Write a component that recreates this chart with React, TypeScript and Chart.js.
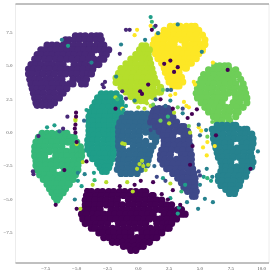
import React, { useEffect, useRef } from "react";
import { Chart, registerables } from "chart.js";

Chart.register(...registerables);

const xTickValues = [-7.5, -5, -2.5, 0, 2.5, 5, 7.5, 10];
const yTickValues = [-7.5, -5, -2.5, 0, 2.5, 5, 7.5];
const colors = ["#440154", "#482878", "#3e4989", "#31688e", "#26828e", "#1f9e89", "#35b779", "#6ece58", "#b5de2b", "#fde725"];

// each row: y value, then the x values read along that row
const cluster0 = [
  [-4.4, -4.1, -3.8, -3.3, -2.9, -2.4, -2.0, -1.5, -1.1, -0.6, -0.2, 0.3, 0.6],
  [-4.7, -4.2, -3.9, -3.4, -3.0, -2.5, -2.1, -1.6, -1.2, -0.7, -0.3, 0.2, 0.6, 1.1, 1.2],
  [-5.05, -4.3, -3.9, -3.5, -3.0, -2.6, -2.1, -1.7, -0.8, -0.3, 0.1, 0.6, 1.0, 1.5, 1.9],
  [-5.4, -4.3, -4.0, -3.5, -3.1, -2.6, -2.2, -1.7, -1.3, -0.8, -0.4, 0.1, 0.5, 1.0, 1.4, 1.9, 2.3, 2.7],
  [-5.75, -4.4, -4.0, -3.6, -3.1, -2.2, -1.8, -1.3, -0.9, -0.4, 0.0, 0.5, 0.9, 1.4, 1.8, 2.3, 2.7, 3.2, 3.5],
  [-6.1, -4.6, -4.2, -3.7, -3.3, -2.8, -2.4, -1.9, -1.5, -1.0, -0.6, -0.1, 0.3, 0.8, 1.2, 2.1, 2.6, 3.0, 3.5, 3.8],
  [-6.45, -4.5, -4.1, -3.6, -3.1, -2.7, -2.2, -1.8, -1.3, -0.9, -0.4, 0.0, 0.5, 0.9, 1.4, 1.8, 2.3, 2.8, 3.1],
  [-6.8, -4.3, -3.9, -3.4, -3.0, -2.5, -1.6, -1.2, -0.7, -0.3, 0.2, 0.6, 1.5, 2.0, 2.4, 2.7],
  [-7.15, -3.8, -3.5, -3.0, -2.6, -2.1, -1.7, -1.2, -0.8, -0.3, 0.1, 0.6, 1.0, 1.5, 1.9, 2.3, 2.5],
  [-7.5, -3.2, -2.9, -2.4, -2.0, -1.5, -1.1, -0.6, 0.3, 0.7, 1.2, 1.6, 1.9],
  [-7.85, -2.8, -2.4, -1.9, -1.5, -1.0, -0.6, -0.1, 0.3, 0.8, 1.2, 1.5],
  [-8.2, -2.1, -1.7, -1.3, -0.8, -0.4, 0.1, 0.5, 0.9],
  [-8.5, -1.2, -0.8, -0.3, 0.1, 0.4],
  [-8.8, -0.6, -0.2],
];
const cluster1 = [
  [7.25, -5.1, -4.7, -4.3, -3.8, -3.4, -3.1],
  [6.95, -5.9, -5.6, -5.2, -4.8, -4.3, -3.9, -3.4, -3.0],
  [6.55, -7.4, -7.0, -6.6, -6.1, -5.7, -5.2, -4.8, -4.3, -3.9, -3.4, -3.0, -2.8],
  [6.2, -7.9, -7.6, -7.1, -6.7, -6.2, -5.8, -5.3, -4.9, -4.4, -4.0, -3.5, -3.1, -2.7, -2.4],
  [5.85, -8.2, -7.9, -7.4, -7.0, -6.5, -6.1, -5.6, -5.2, -4.7, -4.3, -3.8, -2.9, -2.6],
  [5.5, -8.4, -8.1, -7.6, -7.2, -6.7, -6.3, -5.8, -5.4, -4.9, -4.5, -4.0, -3.6, -3.1, -2.8],
  [5.1, -8.7, -8.3, -7.9, -7.4, -7.0, -6.5, -6.1, -5.2, -4.7, -4.3, -3.8, -3.4, -3.2],
  [4.75, -8.9, -8.5, -8.1, -7.6, -7.2, -6.7, -6.3, -5.8, -5.4, -4.9, -4.5, -4.0, -3.7],
  [4.4, -8.9, -8.6, -8.1, -7.7, -7.2, -6.8, -6.3, -5.9, -5.4, -5.0, -4.5, -4.1, -3.8],
  [4.0, -8.8, -8.4, -8.0, -7.5, -7.1, -6.6, -6.2, -5.3, -4.8, -4.4, -4.2],
  [3.65, -8.7, -8.3, -7.9, -7.4, -7.0, -6.5, -6.1, -5.6, -5.3, -4.6, -4.3],
  [3.3, -8.6, -8.2, -7.8, -7.3, -6.9, -6.4, -6.0, -5.8],
  [2.95, -8.5, -8.1, -7.7, -7.2, -6.8, -6.3, -6.1],
  [2.6, -8.4, -8.1, -7.6, -7.2, -6.7, -6.4],
  [2.25, -8.3, -8.0, -7.5, -7.1, -6.8],
  [2.05, -8.2, -7.8, -7.4, -7.1],
];
const cluster2 = [
  [1.8, 1.3, 1.7, 2.1, 2.4],
  [1.5, 1.2, 1.5, 2.0, 2.4, 2.6],
  [1.15, 1.1, 1.4, 1.9, 2.3, 2.8],
  [0.8, 1.0, 1.3, 1.8, 2.2, 2.7, 3.1],
  [0.45, 1.4, 1.7, 2.2, 2.6, 3.1, 3.5, 3.7],
  [0.1, 1.7, 2.1, 2.5, 3.0, 3.4, 3.9, 4.0],
  [-0.25, 2.0, 2.4, 2.8, 3.7, 4.1],
  [-0.6, 2.1, 2.4, 2.9, 3.3, 3.8, 4.1],
  [-0.95, 2.1, 2.5, 2.9, 3.4, 3.8, 4.2],
  [-1.3, 1.9, 2.3, 2.7, 3.2, 3.6, 4.1, 4.2],
  [-1.65, 1.8, 2.1, 2.6, 3.5, 3.9, 4.3],
  [-2.0, 1.8, 2.2, 2.6, 3.1, 3.5, 4.0, 4.3],
  [-2.35, 2.0, 2.4, 2.8, 3.3, 3.7, 4.2, 4.3],
  [-2.7, 2.3, 2.6, 3.1, 3.5, 4.0, 4.4],
  [-3.05, 2.8, 3.2, 3.6, 4.1, 4.5],
  [-3.4, 3.2, 3.6, 4.0, 4.5, 4.6],
  [-3.75, 3.5, 3.9, 4.3, 4.6],
  [-4.1, 3.7, 4.1, 4.5, 4.6],
  [-4.4, 4.0, 4.4, 4.7],
  [-4.75, 4.4, 4.6],
];
const cluster3 = [
  [1.4, -0.9, -0.6, -0.1, 0.3, 0.7],
  [1.1, -1.3, -0.9, -0.5, 0.0, 0.4, 0.9, 1.1],
  [0.75, -1.5, -1.1, -0.7, -0.2, 0.2, 0.7, 1.1, 1.3],
  [0.4, -1.6, -1.3, -0.8, -0.4, 0.1, 0.5, 1.0, 1.4],
  [0.05, -1.6, -1.2, -0.8, -0.3, 0.1, 0.6, 1.0, 1.4],
  [-0.3, -1.6, -1.3, -0.8, -0.4, 0.1, 1.1, 1.5],
  [-0.65, -1.6, -1.2, -0.8, -0.3, 0.1, 0.6, 1.4],
  [-1.0, -1.6, -1.3, -0.4, 0.1, 0.5, 1.0, 1.2],
  [-1.35, -1.5, -1.2, -0.7, -0.3, 0.2, 0.6, 1.0],
  [-1.7, -1.5, -1.1, -0.7, -0.2, 0.2, 0.7, 0.9],
  [-2.05, -1.6, -1.2, -0.8, -0.3, 0.1, 0.6, 0.8],
  [-2.4, -1.6, -1.3, -0.8, -0.4, 0.1, 0.7],
  [-2.75, -1.7, -1.3, -0.9, -0.4, 0.2],
  [-3.05, -1.4, -1.0, -0.6, -0.1],
];
const cluster4 = [
  [0.55, 6.4, 6.8, 7.2, 7.7, 7.9],
  [0.25, 6.0, 6.4, 6.8, 7.3, 7.7, 8.2, 8.6, 8.8],
  [-0.1, 6.1, 6.5, 6.9, 7.4, 7.8, 8.3, 8.7, 9.2],
  [-0.45, 6.1, 6.4, 6.9, 7.3, 7.8, 8.2, 8.7, 9.1, 9.3],
  [-0.8, 6.2, 6.6, 7.0, 7.5, 8.4, 8.8, 9.3],
  [-1.15, 6.3, 6.6, 7.1, 7.5, 8.0, 8.4, 8.9, 9.2],
  [-1.5, 6.4, 6.8, 7.2, 7.7, 8.1, 8.6, 9.1],
  [-1.85, 6.5, 6.8, 7.3, 7.7, 8.2, 8.6, 9.0, 9.2],
  [-2.2, 6.7, 7.1, 7.5, 8.4, 8.9, 9.3],
  [-2.55, 6.8, 7.1, 7.6, 8.0, 8.5, 8.9, 9.2],
  [-2.9, 6.7, 7.1, 7.5, 8.0, 8.4, 8.8],
  [-3.25, 6.5, 6.9, 7.3, 7.8, 8.2, 8.7],
  [-3.6, 6.5, 6.8, 7.3, 7.7, 8.2, 8.3],
  [-3.95, 6.7, 7.1, 7.5, 8.0, 8.2],
  [-4.25, 7.1, 7.5, 7.9],
  [-4.55, 7.4, 7.8],
];
const cluster5 = [
  [2.9, -3.0, -2.6, -2.2, -1.8],
  [2.6, -3.3, -2.9, -2.5, -2.0, -1.5],
  [2.25, -3.5, -3.2, -2.7, -2.3, -1.8, -1.4],
  [1.9, -3.7, -3.3, -2.9, -2.4, -2.0, -1.5, -1.4],
  [1.55, -3.9, -3.5, -3.1, -2.6, -2.2, -1.7, -1.4],
  [1.2, -4.0, -3.6, -3.2, -2.7, -2.3, -1.8, -1.5],
  [0.85, -4.0, -3.7, -3.2, -2.8, -2.3, -1.8],
  [0.5, -4.0, -3.6, -3.2, -2.7, -2.3, -1.9],
  [0.15, -4.0, -3.7, -3.2, -2.8, -2.3, -2.0],
  [-0.2, -4.0, -3.6, -3.2, -2.7, -2.3, -2.0],
  [-0.55, -4.1, -3.7, -3.3, -2.8, -2.4, -2.0],
  [-0.9, -4.1, -3.8, -3.3, -2.9, -2.4, -2.0],
  [-1.25, -4.1, -3.7, -3.3, -2.8, -2.4, -2.0],
  [-1.6, -3.9, -3.6, -3.1, -2.7, -2.2, -2.0],
  [-1.95, -3.7, -3.4, -2.9, -2.5, -2.1],
  [-2.3, -3.3, -3.0, -2.5, -2.3],
  [-2.6, -3.1, -2.7, -2.4],
  [-2.9, -2.9, -2.6],
];
const cluster6 = [
  [-0.05, -7.8, -7.4, -7.0, -6.5, -6.1, -5.8],
  [-0.35, -8.1, -7.7, -7.3, -6.8, -6.4, -5.9, -5.5, -5.2],
  [-0.7, -8.3, -7.9, -7.5, -7.0, -6.6, -6.1, -5.7, -5.2, -5.0],
  [-1.05, -8.4, -8.0, -7.6, -7.1, -6.7, -6.2, -5.3, -4.9, -4.7],
  [-1.4, -8.4, -8.1, -7.6, -7.2, -6.7, -6.3, -5.8, -5.4, -4.9, -4.6],
  [-1.75, -8.4, -8.0, -7.6, -6.7, -6.2, -5.8, -5.3, -4.9, -4.6],
  [-2.1, -8.3, -7.9, -7.5, -7.0, -6.6, -6.1, -5.7, -5.2, -4.8, -4.7],
  [-2.45, -8.3, -8.0, -7.5, -7.1, -6.6, -6.2, -5.7, -5.3, -4.9],
  [-2.8, -8.2, -7.8, -7.4, -6.9, -6.0, -5.6, -5.1, -4.9],
  [-3.15, -8.0, -7.6, -7.2, -6.7, -6.3, -5.8, -5.4, -5.1],
  [-3.5, -7.7, -7.4, -6.9, -6.5, -6.0, -5.6, -5.3],
  [-3.85, -7.4, -7.1, -6.6, -6.2, -5.7, -5.6],
  [-4.2, -7.2, -6.8, -6.4, -5.9],
  [-4.5, -7.0, -6.6, -6.2, -6.1],
  [-4.8, -6.8, -6.4],
  [-5.05, -6.6],
];
const cluster7 = [
  [5.0, 6.2, 6.6, 7.0, 7.3],
  [4.7, 5.7, 6.1, 6.5, 7.0, 7.4, 7.9],
  [4.35, 5.3, 5.7, 6.1, 6.6, 7.0, 7.5, 7.9, 8.1],
  [4.0, 5.1, 5.5, 5.9, 6.4, 6.8, 7.3, 7.7, 8.3],
  [3.65, 4.9, 5.2, 5.7, 6.1, 6.6, 7.0, 7.5, 7.9, 8.5],
  [3.3, 4.8, 5.1, 5.6, 6.0, 6.5, 6.9, 7.4, 7.8, 8.3, 8.6],
  [2.95, 4.7, 5.1, 5.5, 6.0, 6.4, 6.9, 7.3, 7.8, 8.2, 8.7],
  [2.6, 4.8, 5.2, 5.6, 6.1, 6.5, 7.0, 7.9, 8.4, 8.8],
  [2.25, 5.1, 5.5, 5.9, 6.4, 6.8, 7.7, 8.2, 8.8],
  [1.9, 5.4, 5.7, 6.2, 6.6, 7.1, 7.5, 8.0, 8.5],
  [1.55, 5.7, 6.1, 6.5, 7.0, 7.4, 7.9, 8.1],
  [1.2, 6.1, 6.4, 6.9, 7.3, 7.9],
  [0.9, 6.4, 6.8, 7.4],
];
const cluster8 = [
  [6.5, 0.3, 0.6],
  [6.2, 0.1, 0.5, 0.9],
  [5.85, -0.2, 0.2, 0.6, 0.8],
  [5.5, -0.6, -0.2, 0.3, 0.7, 0.9],
  [5.15, -1.0, -0.6, -0.2, 0.3, 0.7, 1.0],
  [4.8, -1.4, -1.0, -0.6, -0.1, 0.3, 0.8, 1.1],
  [4.45, -1.6, -1.3, -0.8, -0.4, 0.1, 0.5, 1.0, 1.2],
  [4.1, -1.8, -1.4, -1.0, -0.5, -0.1, 0.4, 0.8, 1.3],
  [3.75, -1.8, -1.5, -1.0, -0.6, -0.1, 0.3, 0.8, 1.2, 1.5],
  [3.4, -1.4, -1.1, -0.6, -0.2, 0.3, 0.7, 1.2, 1.8],
  [3.05, -1.0, -0.6, -0.2, 0.3, 0.7, 1.2, 1.6, 1.8],
  [2.7, -0.6, -0.2, 0.2, 0.7, 1.2],
  [2.4, -0.2, 0.2, 0.5],
];
const cluster9 = [
  [7.95, 2.6, 3.0, 3.4, 3.9, 4.3, 4.6],
  [7.65, 2.1, 2.5, 2.9, 3.4, 3.8, 4.3, 4.7, 4.9],
  [7.3, 1.6, 2.0, 2.4, 2.9, 3.3, 3.8, 4.2, 4.7, 5.2],
  [6.95, 1.3, 1.7, 2.1, 2.6, 3.0, 3.5, 3.9, 4.4, 4.8, 5.4],
  [6.6, 1.2, 1.6, 2.0, 2.5, 2.9, 3.8, 4.3, 4.7, 5.1, 5.4],
  [6.25, 1.2, 1.5, 2.0, 2.4, 2.9, 3.3, 3.8, 4.2, 4.7, 5.2],
  [5.9, 1.4, 1.8, 2.2, 2.7, 3.1, 3.6, 4.0, 4.5, 4.9],
  [5.55, 1.6, 2.0, 2.4, 2.9, 3.3, 3.8, 4.2, 4.7],
  [5.2, 1.9, 2.3, 2.7, 3.2, 3.6, 4.1, 4.3],
  [4.85, 2.1, 2.4, 2.9, 3.3, 3.8, 3.9],
  [4.5, 2.2, 2.6, 3.0, 3.3],
  [4.15, 2.4, 2.8, 3.2, 3.5],
  [3.8, 2.5, 2.9, 3.3, 3.6],
  [3.5, 2.8, 3.1, 3.3],
];

// scattered single points as x, y pairs, per class
const stray0 = [-5.05,1.5, -5.05,1.2, -5.1,0.6, -5.15,0.3, -5.1,0.0, -6.0,-2.8, -6.7,-5.4, -5.0,-5.7, -4.2,-2.15, -5.0,-0.7, -4.2,-4.3, 2.1,5.15, 2.6,5.4, 3.2,4.9, 2.9,4.55, 0.15,3.1, 0.3,2.9, 0.8,3.6, 2.8,1.8, 4.75,1.75, 4.35,1.4, 4.0,1.1, 1.8,2.5, -1.85,1.8, 4.2,-2.4, 9.1,-2.7, 3.4,-5.4, 2.4,-5.0, 1.9,-4.6, 2.8,-4.3, 1.2,-3.7, 0.2,-3.6, -0.3,-3.9, 7.25,4.7, 1.1,7.7, 6.3,-0.2, -1.5,-4.0, 4.4,-1.0];
const stray1 = [-1.0,7.7, -0.7,7.7, -1.5,5.9, -2.7,3.8, -2.9,3.6, -2.8,3.4, -1.3,3.1, -1.0,2.55, -5.75,1.2, -6.1,0.3, -8.1,-0.25, -8.55,-2.9, -8.5,-3.1, 1.4,8.0];
const stray2 = [1.5,-3.3, 2.2,-3.6, 1.0,0.2, 5.0,-3.2, 4.9,-2.9, 3.6,1.8];
const stray3 = [-6.4,0.1, 2.35,3.2, 2.65,3.2, 1.4,2.5, 2.2,2.0, -4.4,0.9, 1.3,-2.5, 5.0,-0.2, 4.9,0.6];
const stray4 = [-6.2,6.95, -3.8,5.25, -1.4,6.6, -1.8,4.2, -0.3,2.4, 1.6,7.45, 0.55,6.95, 5.15,6.05, 3.2,8.1, 3.6,1.45, 2.6,2.4, -4.35,-3.1, -4.9,-3.0, -5.15,-5.0, 5.55,-2.7, 5.0,-3.9, 5.4,-4.95, 6.05,-5.2, 4.85,-5.7, 3.95,-5.2, 9.7,-1.4, 9.0,0.0, 5.5,0.2, 6.0,-3.3];
const stray5 = [-4.2,1.7, -7.4,0.4, -6.8,0.55, -5.7,6.5, 1.0,8.65, -1.2,1.7, -3.6,-3.0, -4.9,-3.6, -4.6,-4.0, 3.2,-6.05, 2.6,-4.9, 3.3,-5.6, 3.8,-3.9, 5.3,-3.3, 5.9,-3.6, 2.0,-3.4, -1.0,2.0];
const stray6 = [-3.55,-3.55, 1.1,8.3, 1.3,7.9, -1.7,2.5, 2.4,1.2, 5.6,-3.4, 3.5,-4.4];
const stray7 = [2.0,3.2, 1.2,2.1, 1.8,0.9, 6.0,0.8, 3.2,1.9, 4.1,0.5, 5.6,-0.3];
const stray8 = [-1.85,2.65, -5.0,-0.85, -4.7,-5.7, -4.5,-2.2, -3.7,-3.9, -2.6,-3.7, -0.9,-3.7, -0.45,-4.4, -1.1,-0.85, -1.3,-0.8, 0.1,-2.35, 0.4,-2.5, 0.6,-2.8, -0.1,-2.7, 0.3,-2.1, 0.8,-2.4, 0.0,1.9, 0.5,1.8, 1.0,2.0, 0.7,2.2, 2.9,1.5, 2.5,0.7, 2.6,-3.8, 4.2,0.0, -5.1,0.9];
const stray9 = [-0.3,7.3, -0.1,7.7, 1.0,8.0, -1.3,1.8, 6.05,5.25, 4.5,3.8, 4.6,3.6, 5.3,6.05, 3.7,2.3, 3.9,2.0, 4.1,1.9, 3.0,2.9, 2.6,2.8, 4.9,0.4, 5.1,0.15, 5.55,-1.7, 6.2,-1.0, 5.25,-1.1, 5.6,-0.7, -5.1,1.0];

const clusterRows = [cluster0, cluster1, cluster2, cluster3, cluster4, cluster5, cluster6, cluster7, cluster8, cluster9];
const strayPairs = [stray0, stray1, stray2, stray3, stray4, stray5, stray6, stray7, stray8, stray9];

function rowsToPoints(rows: number[][]) {
  const out: { x: number; y: number }[] = [];
  for (const r of rows) for (let i = 1; i < r.length; i++) out.push({ x: r[i], y: r[0] });
  return out;
}
function pairsToPoints(p: number[]) {
  const out: { x: number; y: number }[] = [];
  for (let i = 0; i + 1 < p.length; i += 2) out.push({ x: p[i], y: p[i + 1] });
  return out;
}
const fmt = (v: number) => (v < 0 ? "\u2212" : "") + Math.abs(v).toFixed(1);

const framePlugin = {
  id: "frame",
  beforeDatasetsDraw(chart: any) {
    const { ctx, chartArea: a } = chart;
    ctx.save();
    ctx.lineWidth = 1;
    ctx.strokeStyle = "#ececec";
    ctx.beginPath();
    ctx.moveTo(a.left, a.top);
    ctx.lineTo(a.left, a.bottom);
    ctx.moveTo(a.right, a.top);
    ctx.lineTo(a.right, a.bottom);
    ctx.stroke();
    ctx.strokeStyle = "#808080";
    ctx.beginPath();
    ctx.moveTo(a.left, a.top);
    ctx.lineTo(a.right, a.top);
    ctx.moveTo(a.left, a.bottom);
    ctx.lineTo(a.right, a.bottom);
    ctx.stroke();
    ctx.restore();
  },
};

export default function App() {
  const ref = useRef<HTMLCanvasElement | null>(null);
  useEffect(() => {
    const strays = strayPairs.map((p, i) => ({
      data: pairsToPoints(p),
      backgroundColor: colors[i],
      borderWidth: 0,
      pointRadius: 2.1,
      order: 0,
    }));
    const cores = clusterRows.map((r, i) => ({
      data: rowsToPoints(r),
      backgroundColor: colors[i],
      borderWidth: 0,
      pointRadius: 3.6,
      order: 1 + i,
    }));
    const tickFont = { family: "'Liberation Serif'", size: 5 };
    const chart = new Chart(ref.current as HTMLCanvasElement, {
      type: "scatter",
      data: { datasets: [...strays, ...cores] as any },
      plugins: [framePlugin],
      options: {
        animation: false,
        responsive: false,
        layout: { padding: { top: 2, right: 2.5, left: 0, bottom: 0 } },
        plugins: { legend: { display: false }, tooltip: { enabled: false } },
        scales: {
          x: {
            type: "linear",
            min: -9.96,
            max: 10.6,
            afterBuildTicks: (s: any) => { s.ticks = xTickValues.map((value) => ({ value })); },
            afterFit: (s: any) => { s.height = 10; },
            grid: { display: false, drawTicks: true, tickLength: 2, tickColor: "#666" } as any,
            border: { display: false },
            ticks: { callback: (v: any) => fmt(Number(v)), font: tickFont, color: "#555", padding: 1, maxRotation: 0, autoSkip: false },
          },
          y: {
            type: "linear",
            min: -9.75,
            max: 9.63,
            afterBuildTicks: (s: any) => { s.ticks = yTickValues.map((value) => ({ value })); },
            afterFit: (s: any) => { s.width = 15.5; },
            grid: { display: false, drawTicks: true, tickLength: 2, tickColor: "#666" } as any,
            border: { display: false },
            ticks: { callback: (v: any) => fmt(Number(v)), font: tickFont, color: "#555", padding: 1, autoSkip: false },
          },
        },
      },
    });
    return () => chart.destroy();
  }, []);
  return (
    <div style={{ position: "fixed", left: 0, top: 0, width: 273, height: 273, background: "#fff" }}>
      <canvas ref={ref} width={273} height={273} style={{ display: "block", width: 273, height: 273 }} />
    </div>
  );
}
